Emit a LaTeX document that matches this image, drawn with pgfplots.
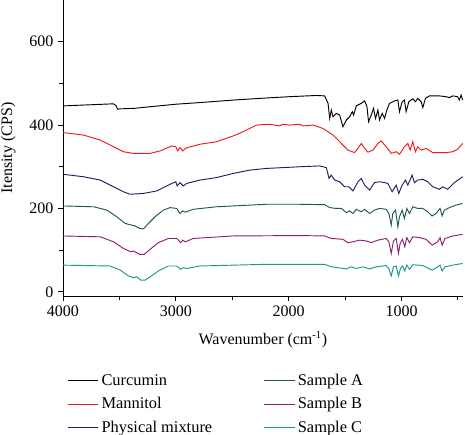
\documentclass[border=0pt]{standalone}
\usepackage{pgfplots}
\pgfplotsset{compat=1.18}
\usepackage{fontspec}
\setmainfont{Liberation Serif}
\definecolor{cred}{RGB}{240,25,25}
\definecolor{cnavy}{RGB}{30,30,100}
\definecolor{cA}{RGB}{25,90,80}
\definecolor{cB}{RGB}{140,30,110}
\definecolor{cC}{RGB}{30,150,140}
\begin{document}
\begin{tikzpicture}
\begin{axis}[
  scale only axis,
  width=300pt, height=222pt,
  x dir=reverse,
  xmin=455, xmax=4000,
  ymin=-10, ymax=700,
  axis x line*=bottom, axis y line*=left,
  axis line style={line width=0.7pt, -},
  xtick={1000,2000,3000,4000},
  ytick={0,200,400,600},
  minor xtick={500,1500,2500,3500},
  minor ytick={100,300,500},
  tick align=outside,
  major tick length=3.75pt, minor tick length=3pt,
  every tick/.style={line width=0.7pt, black},
  font=\fontsize{12}{14.4}\selectfont,
  /pgf/number format/assume math mode=true,
  /pgf/number format/1000 sep={},
  xlabel={Wavenumber (cm\textsuperscript{-1})},
  ylabel={Itensity (CPS)},
  every axis x label/.style={at={(axis description cs:0.5,0)}, yshift=-33pt, anchor=center},
  every axis y label/.style={at={(axis description cs:0,0.5)}, xshift=-41pt, rotate=90, anchor=center},
  legend columns=2,
  legend cell align=left,
  legend style={draw=none, fill=none, at={(0,-0.245)}, anchor=north west,
    font=\fontsize{12.3}{14.8}\selectfont, row sep=3.5pt,
    /tikz/every even column/.append style={column sep=36.5pt}},
  legend image code/.code={\path (0pt,0pt) -- (23pt,0pt);\draw[#1, line width=0.75pt] (0pt,0pt) -- (20pt,0pt);},
  every axis plot/.append style={line width=0.7pt},
]
% Curcumin
\addplot[black] coordinates {
(4000,446)(3552,451)(3528,446)(3517,438)(3493,439)(3375,440)(3228,444)(3000,450)(2786,454)(2491,460)(2197,465)(2000,468)(1754,471)(1681,470)(1651,452)(1636,416)(1622,436)(1607,420)(1578,428)(1548,424)(1519,396)(1489,412)(1460,420)(1436,432)(1424,424)(1401,446)(1357,452)(1327,458)(1306,444)(1292,408)(1268,424)(1248,440)(1230,416)(1209,436)(1195,412)(1171,428)(1150,416)(1130,436)(1106,452)(1062,458)(1032,460)(1018,432)(994,456)(974,460)(959,432)(935,456)(900,463)(876,456)(856,464)(826,456)(811,442)(788,464)(752,470)(664,470)(605,468)(576,466)(546,470)(502,468)(487,460)(472,472)(458,460)
};
\addlegendentry{Curcumin}
% Sample A
\addplot[cA] coordinates {
(4000,206)(3729,204)(3611,196)(3523,180)(3449,164)(3390,160)(3360,158)(3322,152)(3287,151)(3243,164)(3184,180)(3110,196)(3051,202)(2992,200)(2963,188)(2939,194)(2918,191)(2845,198)(2640,204)(2197,210)(1902,210)(1681,209)(1636,202)(1578,200)(1533,200)(1489,190)(1460,194)(1430,188)(1401,198)(1357,192)(1327,198)(1283,188)(1239,196)(1195,200)(1136,198)(1112,188)(1091,160)(1077,188)(1053,196)(1032,156)(1018,180)(994,196)(974,176)(953,200)(929,188)(900,204)(856,200)(811,200)(767,192)(729,182)(694,188)(658,200)(640,182)(620,196)(576,202)(517,208)(458,212)
};
\addlegendentry{Sample A}
% Mannitol
\addplot[cred] coordinates {
(4000,382)(3817,376)(3670,364)(3552,348)(3464,336)(3375,332)(3228,332)(3139,338)(3036,350)(3000,348)(2983,338)(2963,346)(2939,338)(2910,345)(2786,354)(2640,360)(2491,374)(2403,384)(2285,400)(2167,402)(2079,398)(2055,402)(1991,400)(1902,402)(1873,398)(1784,400)(1696,392)(1607,376)(1548,360)(1475,340)(1416,334)(1386,344)(1357,356)(1327,344)(1298,335)(1253,340)(1209,356)(1180,362)(1136,348)(1091,332)(1047,336)(1018,330)(974,348)(944,356)(923,340)(900,360)(876,336)(856,348)(826,340)(782,344)(723,334)(664,334)(605,334)(546,336)(502,342)(458,356)
};
\addlegendentry{Mannitol}
% Sample B
\addplot[cB] coordinates {
(4000,134)(3670,132)(3552,120)(3464,104)(3399,96)(3375,98)(3322,90)(3281,90)(3228,102)(3154,118)(3066,128)(2992,128)(2957,118)(2939,124)(2915,120)(2845,128)(2491,134)(1902,135)(1681,134)(1622,128)(1519,126)(1475,118)(1430,120)(1371,124)(1312,122)(1268,118)(1209,124)(1136,128)(1112,120)(1091,92)(1071,122)(1047,128)(1027,92)(1012,116)(991,126)(971,108)(953,130)(929,118)(900,132)(841,130)(782,126)(729,112)(679,120)(658,130)(640,112)(614,128)(546,134)(458,138)
};
\addlegendentry{Sample B}
% Physical mixture
\addplot[cnavy] coordinates {
(4000,282)(3817,276)(3670,268)(3552,252)(3464,240)(3405,234)(3287,236)(3169,242)(3051,258)(3000,264)(2988,254)(2963,262)(2934,254)(2904,260)(2786,268)(2640,274)(2491,284)(2344,292)(2197,296)(2050,298)(1902,300)(1725,302)(1666,298)(1642,272)(1622,280)(1592,268)(1548,264)(1504,252)(1466,252)(1430,242)(1386,264)(1357,272)(1327,256)(1283,244)(1239,262)(1195,264)(1150,262)(1121,260)(1083,240)(1047,256)(1024,236)(994,256)(965,268)(944,256)(906,280)(885,262)(856,268)(811,270)(767,264)(723,252)(664,246)(635,252)(590,246)(531,262)(458,276)
};
\addlegendentry{Physical mixture}
% Sample C
\addplot[cC] coordinates {
(4000,64)(3582,62)(3493,52)(3419,38)(3375,34)(3346,36)(3310,28)(3272,28)(3228,36)(3154,50)(3066,62)(2992,62)(2957,54)(2934,58)(2904,56)(2786,62)(2197,66)(1681,66)(1622,60)(1489,55)(1445,60)(1401,56)(1342,60)(1283,55)(1224,60)(1136,63)(1112,56)(1091,38)(1071,60)(1047,62)(1027,38)(1009,56)(991,62)(971,50)(953,64)(929,54)(900,65)(811,63)(729,52)(679,60)(658,64)(640,50)(614,60)(546,64)(458,68)
};
\addlegendentry{Sample C}
\end{axis}
\pgfresetboundingbox
\path (-47.25pt,-104.25pt) rectangle (301.5pt,222pt);
\end{tikzpicture}
\end{document}
